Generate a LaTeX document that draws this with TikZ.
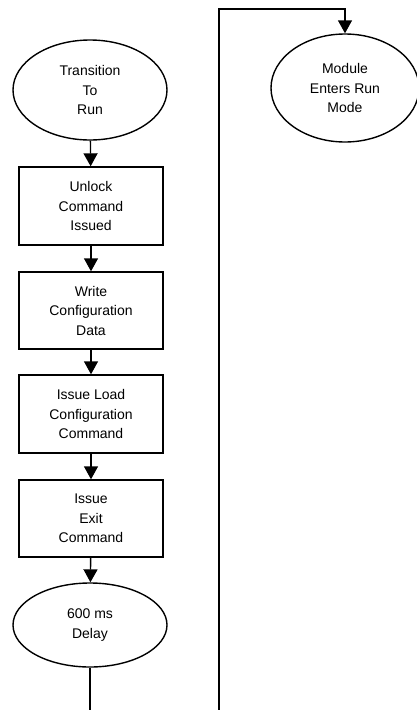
\documentclass[tikz,border=0pt]{standalone}
\usepackage{fontspec}
\setmainfont{Liberation Sans}
\usetikzlibrary{arrows.meta,shapes.geometric}

\tikzset{
	flowbox/.style = {draw, line width = 1.4pt, minimum width = 144pt, minimum height = 78pt, align = center, inner sep = 2pt},
	flowoval/.style = {draw, ellipse, line width = 1.4pt, align = center, inner sep = 0pt},
	flowline/.style = {line width = 1.4pt}
}

\begin{document}
\begin{tikzpicture}[x = 1pt, y = -1pt, > = {Triangle[length = 13pt, width = 14pt]},
	font = \fontsize{14}{19.5}\selectfont]

	\useasboundingbox (0, 0) rectangle (416, 710);

	% Left column
	
	\node [flowoval, minimum width = 154pt, minimum height = 100pt] (start) at (90, 90) {Transition\\To\\Run};
	\node [flowbox] (unlock) at (91, 206) {Unlock\\Command\\Issued};
	\node [flowbox, minimum height = 77pt] (write) at (91, 310.5) {Write\\Configuration\\Data};
	\node [flowbox] (load) at (91, 414) {Issue Load\\Configuration\\Command};
	\node [flowbox, minimum height = 77pt] (exit) at (91, 518.5) {Issue\\Exit\\Command};
	\node [flowoval, minimum width = 154pt, minimum height = 84pt] (delay) at (90, 625) {600 ms\\Delay};

	% Right column
	
	\node [flowoval, minimum width = 148pt, minimum height = 108pt] (runmode) at (345, 88) {Module\\Enters Run\\Mode};

	% Return path
	
	\coordinate (leftend) at (90, 710);
	\coordinate (rightend) at (219, 710);
	\coordinate (topturn) at (219, 9);

	% Connectors
	
	\draw [flowline, ->] (start) -- (unlock);
	\draw [flowline, ->] (unlock) -- (write);
	\draw [flowline, ->] (write) -- (load);
	\draw [flowline, ->] (load) -- (exit);
	\draw [flowline, ->] (exit) -- (delay);
	\draw [flowline] (delay) -- (leftend);
	\draw [flowline, ->] (rightend) -- (topturn) -| (runmode.north);
	
\end{tikzpicture}
\end{document}
